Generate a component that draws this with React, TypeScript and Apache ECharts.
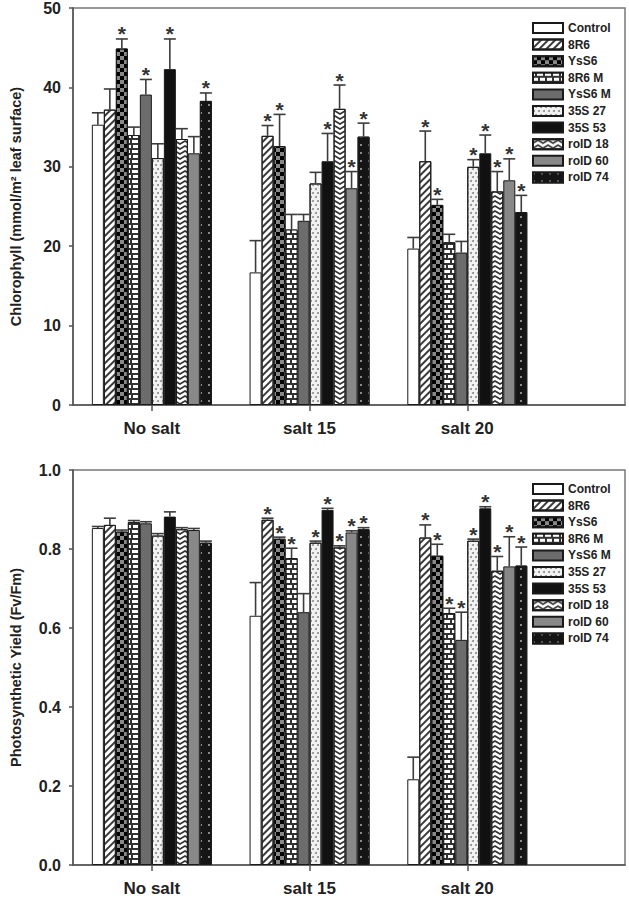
import React, { useEffect, useRef } from 'react';
import * as echarts from 'echarts';

const FONT = 'Arial, "Liberation Sans", Helvetica, sans-serif';

const categories = ['No salt', 'salt 15', 'salt 20'];
const genotypes = ['Control', '8R6', 'YsS6', '8R6 M', 'YsS6 M', '35S 27', '35S 53', 'rolD 18', 'rolD 60', 'rolD 74'];

// Chlorophyll (mmol/m2 leaf surface): one value per genotype, per salt level
const chlNoSalt = [35.3, 37.2, 44.9, 34.0, 39.1, 31.1, 42.3, 33.5, 31.7, 38.3];
const chlNoSaltErr = [1.5, 2.6, 1.2, 1.0, 1.9, 1.8, 3.8, 1.3, 2.1, 1.0];
const chlNoSaltStar = [0, 0, 1, 0, 1, 0, 1, 0, 0, 1];
const chlSalt15 = [16.7, 33.9, 32.6, 22.1, 23.2, 27.9, 30.7, 37.3, 27.3, 33.8];
const chlSalt15Err = [4.0, 1.3, 4.0, 1.9, 0.8, 1.4, 3.5, 3.0, 2.1, 1.7];
const chlSalt15Star = [0, 1, 1, 0, 0, 0, 1, 1, 1, 1];
const chlSalt20 = [19.7, 30.7, 25.2, 20.5, 19.2, 30.0, 31.7, 26.9, 28.3, 24.3];
const chlSalt20Err = [1.4, 3.8, 0.7, 1.0, 1.4, 0.9, 2.3, 2.5, 2.7, 2.1];
const chlSalt20Star = [0, 1, 1, 0, 0, 1, 1, 1, 1, 1];

// Photosynthetic yield (Fv/Fm)
const fvNoSalt = [0.853, 0.861, 0.844, 0.868, 0.865, 0.834, 0.882, 0.850, 0.848, 0.816];
const fvNoSaltErr = [0.004, 0.017, 0.004, 0.004, 0.004, 0.005, 0.012, 0.004, 0.004, 0.004];
const fvNoSaltStar = [0, 0, 0, 0, 0, 0, 0, 0, 0, 0];
const fvSalt15 = [0.631, 0.874, 0.826, 0.777, 0.640, 0.816, 0.899, 0.804, 0.842, 0.850];
const fvSalt15Err = [0.084, 0.004, 0.004, 0.025, 0.047, 0.004, 0.004, 0.004, 0.004, 0.004];
const fvSalt15Star = [0, 1, 1, 1, 0, 1, 1, 1, 1, 1];
const fvSalt20 = [0.217, 0.829, 0.783, 0.638, 0.570, 0.821, 0.903, 0.745, 0.756, 0.758];
const fvSalt20Err = [0.056, 0.032, 0.029, 0.012, 0.070, 0.004, 0.004, 0.036, 0.075, 0.047];
const fvSalt20Star = [0, 1, 1, 1, 1, 1, 1, 1, 1, 1];

const chlTicks = [0, 10, 20, 30, 40, 50];
const fvTicks = [0, 0.2, 0.4, 0.6, 0.8, 1.0];

const BAR_W = 12;

const fills: any[] = [
  { color: '#ffffff' },
  { color: '#ffffff', decal: { symbol: 'rect', color: '#3a3a3a', backgroundColor: '#ffffff', dashArrayX: [1, 0], dashArrayY: [1.6, 2.4], rotation: -Math.PI / 4 } },
  { color: '#888888', decal: { symbol: 'rect', color: '#000000', backgroundColor: '#8a8a8a', dashArrayX: [[4, 4], [0, 4, 4, 0]], dashArrayY: [4, 0] } },
  { color: '#333333', decal: { symbol: 'rect', color: '#ffffff', backgroundColor: '#333333', dashArrayX: [[5, 2], [1.5, 2, 3.5, 0]], dashArrayY: [2.5, 1.5] } },
  { color: '#6c6c6c' },
  { color: '#f2f2f2', decal: { symbol: 'circle', color: '#8a8a8a', backgroundColor: '#f4f4f4', dashArrayX: [[1.5, 2.5], [0, 2, 1.5, 0.5]], dashArrayY: [1.5, 1.5] } },
  { color: '#111111' },
  { color: '#ffffff', decal: { symbol: 'path://M0,4 L5,0 L10,4 L10,6.5 L5,2.5 L0,6.5 Z', symbolKeepAspect: false, color: '#333333', backgroundColor: '#ffffff', dashArrayX: [10, 0], dashArrayY: [5, 0] } },
  { color: '#888888' },
  { color: '#151515', decal: { symbol: 'rect', color: '#8a8a8a', backgroundColor: '#151515', dashArrayX: [1.2, 6], dashArrayY: [1.2, 6] } },
];

type Group = { mean: number[]; err: number[]; star: number[] };

const chlGroups: Group[] = [
  { mean: chlNoSalt, err: chlNoSaltErr, star: chlNoSaltStar },
  { mean: chlSalt15, err: chlSalt15Err, star: chlSalt15Star },
  { mean: chlSalt20, err: chlSalt20Err, star: chlSalt20Star },
];
const fvGroups: Group[] = [
  { mean: fvNoSalt, err: fvNoSaltErr, star: fvNoSaltStar },
  { mean: fvSalt15, err: fvSalt15Err, star: fvSalt15Star },
  { mean: fvSalt20, err: fvSalt20Err, star: fvSalt20Star },
];

function makeBars(idx: number, groups: Group[]) {
  return genotypes.map((name, i) => ({
    type: 'bar',
    name,
    xAxisIndex: idx,
    yAxisIndex: idx,
    barWidth: BAR_W,
    barGap: '0%',
    data: groups.map((g, gi) => [gi + 1, g.mean[i]]),
    itemStyle: { ...fills[i], borderColor: '#1a1a1a', borderWidth: 1 },
    emphasis: { disabled: true },
  }));
}

function makeErrors(idx: number, groups: Group[]) {
  const data: number[][] = [];
  groups.forEach((g, gi) => {
    genotypes.forEach((_, i) => {
      data.push([gi + 1, g.mean[i], g.mean[i] + g.err[i], i, g.star[i]]);
    });
  });
  return {
    type: 'custom',
    xAxisIndex: idx,
    yAxisIndex: idx,
    silent: true,
    z: 5,
    encode: { x: 0, y: 2 },
    data,
    renderItem: (params: any, api: any) => {
      const x = api.value(0);
      const mean = api.value(1);
      const top = api.value(2);
      const i = api.value(3);
      const star = api.value(4);
      const base = api.coord([x, mean]);
      const tp = api.coord([x, top]);
      const cx = base[0] + (i - 4.5) * BAR_W;
      const ls = { stroke: '#3c3c3c', lineWidth: 1.6 };
      const children: any[] = [
        { type: 'line', shape: { x1: cx, y1: base[1], x2: cx, y2: tp[1] }, style: ls },
        { type: 'line', shape: { x1: cx - 6, y1: tp[1], x2: cx + 6, y2: tp[1] }, style: ls },
      ];
      if (star) {
        children.push({
          type: 'text',
          x: cx,
          y: tp[1] - 5,
          style: { text: '*', fontSize: 21, fontWeight: 'bold', fontFamily: FONT, fill: '#333', align: 'center', verticalAlign: 'middle' },
        });
      }
      return { type: 'group', children };
    },
  };
}

const axisLineStyle = { color: '#555', width: 1.5 };

function makeX(idx: number) {
  const pos = categories.map((_, g) => g + 1);
  return {
    gridIndex: idx,
    type: 'value',
    min: 0.5,
    max: 4,
    axisLine: { show: true, onZero: false, lineStyle: axisLineStyle },
    axisTick: { show: true, customValues: pos, length: 6, lineStyle: axisLineStyle },
    axisLabel: {
      customValues: pos,
      formatter: (v: number) => categories[Math.round(v) - 1] ?? '',
      fontSize: 17,
      fontWeight: 'bold',
      fontFamily: FONT,
      color: '#222',
      margin: 15,
    },
    splitLine: { show: false },
  };
}

function makeY(idx: number, ticks: number[], name: string, digits: number) {
  return {
    gridIndex: idx,
    type: 'value',
    min: ticks[0],
    max: ticks[ticks.length - 1],
    interval: ticks[1] - ticks[0],
    name,
    nameLocation: 'middle',
    nameGap: 50,
    nameTextStyle: { fontSize: 14.5, fontWeight: 'bold', fontFamily: FONT, color: '#222' },
    axisLine: { show: true, lineStyle: axisLineStyle },
    axisTick: { show: true, length: 4, lineStyle: axisLineStyle },
    axisLabel: {
      formatter: (v: number) => v.toFixed(digits),
      fontSize: 16,
      fontWeight: 'bold',
      fontFamily: FONT,
      color: '#222',
      margin: 12,
    },
    splitLine: { show: false },
  };
}

function makeLegend(top: number) {
  return {
    orient: 'vertical',
    left: 532,
    top,
    padding: 0,
    itemWidth: 30,
    itemHeight: 10,
    itemGap: 4.6,
    icon: 'rect',
    selectedMode: false,
    data: genotypes,
    textStyle: { fontSize: 12, fontWeight: 'bold', fontFamily: FONT, color: '#222', lineHeight: 10 },
  };
}

export default function App() {
  const ref = useRef<HTMLDivElement>(null);
  useEffect(() => {
    document.body.style.margin = '0';
    if (!ref.current) return;
    const chart = echarts.init(ref.current, undefined, { renderer: 'svg' });
    chart.setOption({
      animation: false,
      backgroundColor: '#ffffff',
      grid: [
        { left: 73, right: 4, top: 8, height: 397, show: true, borderColor: '#777', borderWidth: 1.5, containLabel: false },
        { left: 73, right: 4, top: 470, height: 395, show: true, borderColor: '#777', borderWidth: 1.5, containLabel: false },
      ],
      legend: [makeLegend(22), makeLegend(483)],
      xAxis: [makeX(0), makeX(1)],
      yAxis: [
        makeY(0, chlTicks, 'Chlorophyll (mmol/m² leaf surface)', 0),
        makeY(1, fvTicks, 'Photosynthetic Yield (Fv/Fm)', 1),
      ],
      series: [
        ...makeBars(0, chlGroups),
        makeErrors(0, chlGroups),
        ...makeBars(1, fvGroups),
        makeErrors(1, fvGroups),
      ],
    });
    return () => chart.dispose();
  }, []);
  return <div ref={ref} style={{ width: 629, height: 901 }} />;
}
